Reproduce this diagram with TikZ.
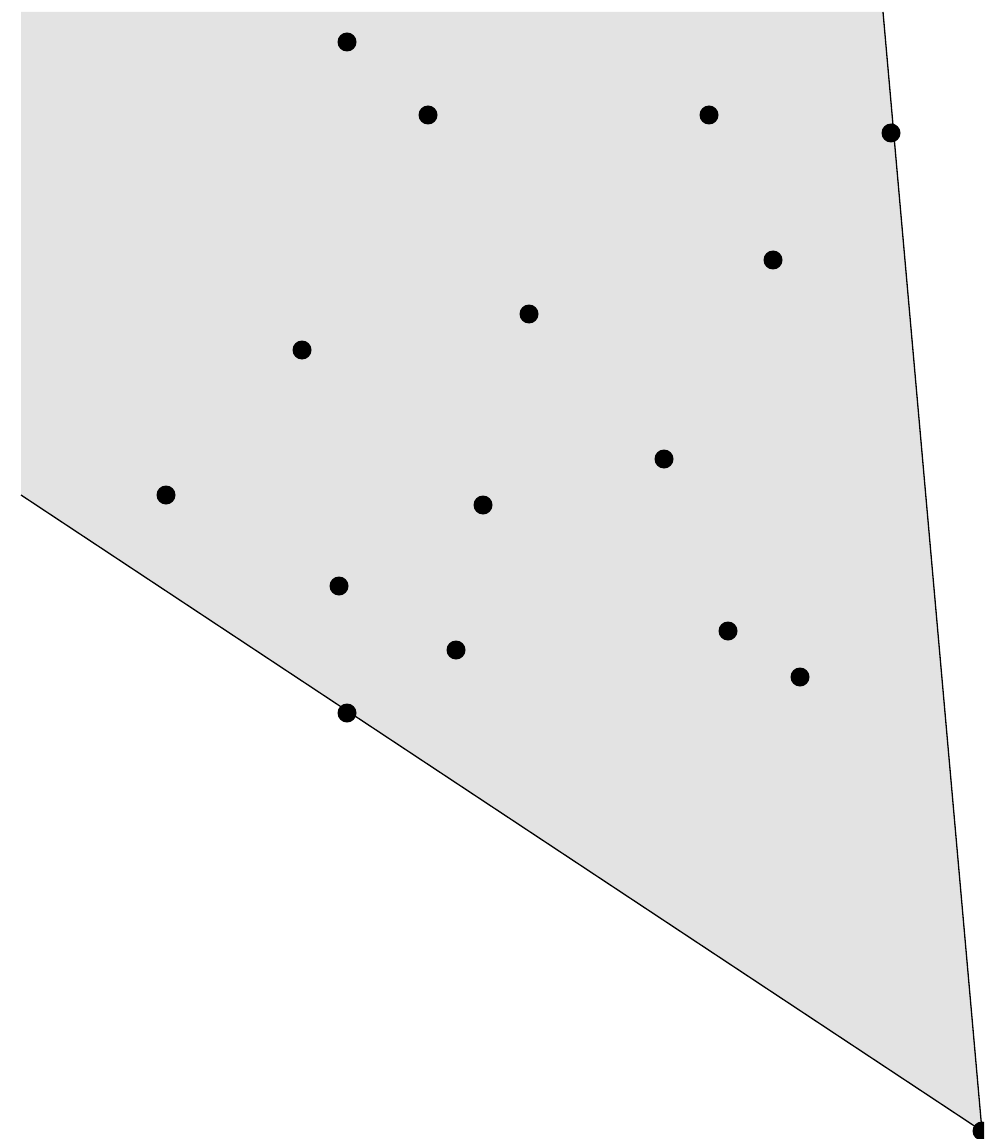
\documentclass[tikz,border=0pt]{standalone}
\definecolor{cellgray}{RGB}{227,227,227}
\tikzset{
  site/.style={circle,fill=black,inner sep=0pt,minimum size=19pt},
  edge/.style={black,line width=1.3pt}
}
\begin{document}
\begin{tikzpicture}[x=1pt,y=-1pt]
\useasboundingbox (0,0) rectangle (984,1139);
\clip (0,0) rectangle (984,1139);
\coordinate (tl) at (21,12);
\coordinate (tr) at (883,12);
\coordinate (br) at (982,1131);
\coordinate (bl) at (21,495);
\fill[cellgray] (tl) -- (tr) -- (br) -- (bl) -- cycle;
\draw[edge] (tr) -- (br) -- (bl);
\node[site] (p1) at (347,42) {};
\node[site] (p2) at (428,115) {};
\node[site] (p3) at (709,115) {};
\node[site] (p4) at (891,133) {};
\node[site] (p5) at (773,260) {};
\node[site] (p6) at (529,314) {};
\node[site] (p7) at (302,350) {};
\node[site] (p8) at (664,459) {};
\node[site] (p9) at (166,495) {};
\node[site] (p10) at (483,505) {};
\node[site] (p11) at (339,586) {};
\node[site] (p12) at (728,631) {};
\node[site] (p13) at (456,650) {};
\node[site] (p14) at (800,677) {};
\node[site] (p15) at (347,713) {};
\node[site] (p16) at (982,1131) {};
\end{tikzpicture}
\end{document}
